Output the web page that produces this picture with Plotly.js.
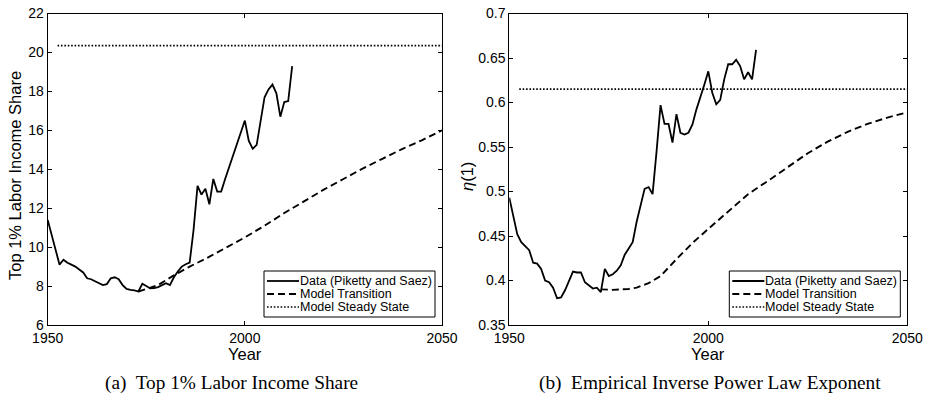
<!DOCTYPE html>
<html>
<head>
<meta charset="utf-8">
<script src="https://cdn.plot.ly/plotly-3.0.1.min.js"></script>
<style>
  html, body { margin: 0; padding: 0; background: #fff; }
  #chart { width: 925px; height: 397px; }
</style>
</head>
<body>
<div id="chart"></div>
<script>
// ---- Panel (a): top 1% labor income share (percent) ----
const dataYears = [1950,1951,1952,1953,1954,1955,1956,1957,1958,1959,
  1960,1961,1962,1963,1964,1965,1966,1967,1968,1969,
  1970,1971,1972,1973,1974,1975,1976,1977,1978,1979,
  1980,1981,1982,1983,1984,1985,1986,1987,1988,1989,
  1990,1991,1992,1993,1994,1995,1996,1997,1998,1999,
  2000,2001,2002,2003,2004,2005,2006,2007,2008,2009,
  2010,2011,2012];
const shareData = [11.4,10.6,9.8,9.1,9.35,9.2,9.1,9.0,8.85,8.7,
  8.4,8.35,8.25,8.15,8.05,8.1,8.4,8.45,8.35,8.05,
  7.85,7.8,7.78,7.72,8.12,8.0,7.88,7.9,7.95,8.05,
  8.15,8.05,8.45,8.75,9.0,9.12,9.2,10.9,13.15,12.7,
  13.0,12.2,13.5,12.85,12.85,13.5,14.1,14.8,15.35,15.9,
  16.5,15.45,15.05,15.25,16.4,17.7,18.1,18.35,17.9,16.7,
  17.45,17.5,19.3];

const modelYears = [1973,1978,1982,1986,1990,1995,2000,2005,2010,2015,2020,2025,2030,2035,2040,2045,2050];
const shareModel = [7.72,8.05,8.55,9.0,9.4,9.95,10.5,11.1,11.75,12.35,12.95,13.5,14.05,14.55,15.05,15.5,16.0];

const steadyYears = [1952.5, 2050];
const shareSteady = [20.35, 20.35];

// ---- Panel (b): inverse power law exponent eta(1) ----
const etaData = [0.493,0.472,0.452,0.443,0.438,0.434,0.42,0.419,0.413,0.4,
  0.398,0.392,0.38,0.381,0.389,0.399,0.41,0.409,0.409,0.398,
  0.395,0.391,0.392,0.387,0.413,0.405,0.407,0.411,0.417,0.429,
  0.436,0.443,0.466,0.484,0.503,0.505,0.497,0.545,0.597,0.576,
  0.576,0.555,0.587,0.566,0.564,0.566,0.575,0.592,0.605,0.62,
  0.635,0.611,0.598,0.603,0.626,0.643,0.643,0.648,0.641,0.626,
  0.634,0.626,0.659];

const etaModelYears = [1973,1976,1980,1982,1985,1988,1992,1996,2000,2005,2010,2015,2020,2025,2030,2035,2040,2045,2050];
const etaModel = [0.39,0.3895,0.3905,0.392,0.397,0.405,0.424,0.442,0.458,0.478,0.497,0.512,0.528,0.543,0.556,0.567,0.576,0.583,0.589];

const etaSteady = [0.615, 0.615];

// ---- Axis ticks and text ----
const xTickVals = [1950, 2000, 2050];
const xTickText = ['1950', '2000', '2050'];
const shareTickVals = [6, 8, 10, 12, 14, 16, 18, 20, 22];
const shareTickText = ['6', '8', '10', '12', '14', '16', '18', '20', '22'];
const etaTickVals = [0.35, 0.4, 0.45, 0.5, 0.55, 0.6, 0.65, 0.7];
const etaTickText = ['0.35', '0.4', '0.45', '0.5', '0.55', '0.6', '0.65', '0.7'];
const legendNames = ['Data (Piketty and Saez)', 'Model Transition', 'Model Steady State'];
const captionA = '(a)&nbsp; Top 1% Labor Income Share';
const captionB = '(b)&nbsp; Empirical Inverse Power Law Exponent';

// ---- Geometry (pixels) ----
const W = 925, H = 397;
const plotTop = 13.5, plotBottom = 325;
const panelA = { left: 47.7, right: 442 };
const panelB = { left: 509.3, right: 907.3 };

const SANS = 'Liberation Sans, Arial, Helvetica, sans-serif';
const SERIF = 'Liberation Serif, Times New Roman, serif';
const SOLID = { color: 'black', width: 1.8 };
const DASHED = { color: 'black', width: 1.9, dash: '7px,4px' };
const DOTTED = { color: 'black', width: 1.7, dash: '1.6px,1.8px' };
const styles = [SOLID, DASHED, DOTTED];

const traces = [
  { x: dataYears, y: shareData, xaxis: 'x', yaxis: 'y', mode: 'lines', line: SOLID, name: legendNames[0] },
  { x: modelYears, y: shareModel, xaxis: 'x', yaxis: 'y', mode: 'lines', line: DASHED, name: legendNames[1] },
  { x: steadyYears, y: shareSteady, xaxis: 'x', yaxis: 'y', mode: 'lines', line: DOTTED, name: legendNames[2] },
  { x: dataYears, y: etaData, xaxis: 'x2', yaxis: 'y2', mode: 'lines', line: SOLID, name: legendNames[0] },
  { x: etaModelYears, y: etaModel, xaxis: 'x2', yaxis: 'y2', mode: 'lines', line: DASHED, name: legendNames[1] },
  { x: steadyYears, y: etaSteady, xaxis: 'x2', yaxis: 'y2', mode: 'lines', line: DOTTED, name: legendNames[2] }
];

const yDomain = [1 - plotBottom / H, 1 - plotTop / H];

function axisBase() {
  return {
    showline: true, linecolor: 'black', linewidth: 1,
    mirror: 'ticks', ticks: 'inside', ticklen: 4, tickwidth: 1, tickcolor: 'black',
    showgrid: false, zeroline: false, fixedrange: true,
    tickfont: { family: SANS, size: 14, color: 'black' }
  };
}

const layout = {
  width: W, height: H,
  margin: { l: 0, r: 0, t: 0, b: 0 },
  paper_bgcolor: 'white', plot_bgcolor: 'white',
  showlegend: false,
  font: { family: SANS, color: 'black' },
  xaxis: Object.assign(axisBase(), {
    domain: [panelA.left / W, panelA.right / W], range: [1950, 2050], anchor: 'y',
    tickvals: xTickVals, ticktext: xTickText
  }),
  yaxis: Object.assign(axisBase(), {
    domain: yDomain, range: [6, 22], anchor: 'x',
    tickvals: shareTickVals, ticktext: shareTickText
  }),
  xaxis2: Object.assign(axisBase(), {
    domain: [panelB.left / W, panelB.right / W], range: [1950, 2050], anchor: 'y2',
    tickvals: xTickVals, ticktext: xTickText
  }),
  yaxis2: Object.assign(axisBase(), {
    domain: yDomain, range: [0.35, 0.7], anchor: 'x2',
    tickvals: etaTickVals, ticktext: etaTickText
  }),
  shapes: [],
  annotations: []
};

// Axis titles and panel captions
function paperText(text, px, py, size, family, extra) {
  return Object.assign({
    text: text, xref: 'paper', yref: 'paper', x: px / W, y: 1 - py / H,
    xanchor: 'center', yanchor: 'middle', showarrow: false,
    font: { family: family, size: size, color: 'black' }
  }, extra || {});
}
layout.annotations.push(paperText('Year', (panelA.left + panelA.right) / 2, 354, 16.5, SANS));
layout.annotations.push(paperText('Year', (panelB.left + panelB.right) / 2, 354, 16.5, SANS));
layout.annotations.push(paperText('Top 1% Labor Income Share', 15, 176, 16.5, SANS, { textangle: -90 }));
layout.annotations.push(paperText('<i>η</i>(1)', 467, 176, 16.5, SANS, { textangle: -90 }));
layout.annotations.push(paperText(captionA, 231.5, 383, 19.3, SERIF));
layout.annotations.push(paperText(captionB, 710, 383, 19.3, SERIF));

// Boxed legend drawn inside the lower-right corner of each panel
function addLegend(xref, yref, panel) {
  const pw = panel.right - panel.left, ph = plotBottom - plotTop;
  const fx = p => p / pw, fy = p => 1 - p / ph;
  const boxR = pw - 7, boxL = boxR - 171, boxB = ph - 8, boxT = boxB - 46;
  layout.shapes.push({
    type: 'rect', xref: xref + ' domain', yref: yref + ' domain',
    x0: fx(boxL), x1: fx(boxR), y0: fy(boxB), y1: fy(boxT),
    line: { color: 'black', width: 1 }, fillcolor: 'white', layer: 'above'
  });
  legendNames.forEach((name, i) => {
    const rowY = boxT + 10 + i * 13;
    layout.shapes.push({
      type: 'line', xref: xref + ' domain', yref: yref + ' domain',
      x0: fx(boxL + 3), x1: fx(boxL + 35), y0: fy(rowY), y1: fy(rowY),
      line: styles[i], layer: 'above'
    });
    layout.annotations.push({
      text: name, xref: xref + ' domain', yref: yref + ' domain',
      x: fx(boxL + 34), y: fy(rowY), xanchor: 'left', yanchor: 'middle',
      showarrow: false, font: { family: SANS, size: 12.5, color: 'black' }
    });
  });
}
addLegend('x', 'y', panelA);
addLegend('x2', 'y2', panelB);

Plotly.newPlot('chart', traces, layout, { staticPlot: true, displayModeBar: false });
</script>
</body>
</html>
